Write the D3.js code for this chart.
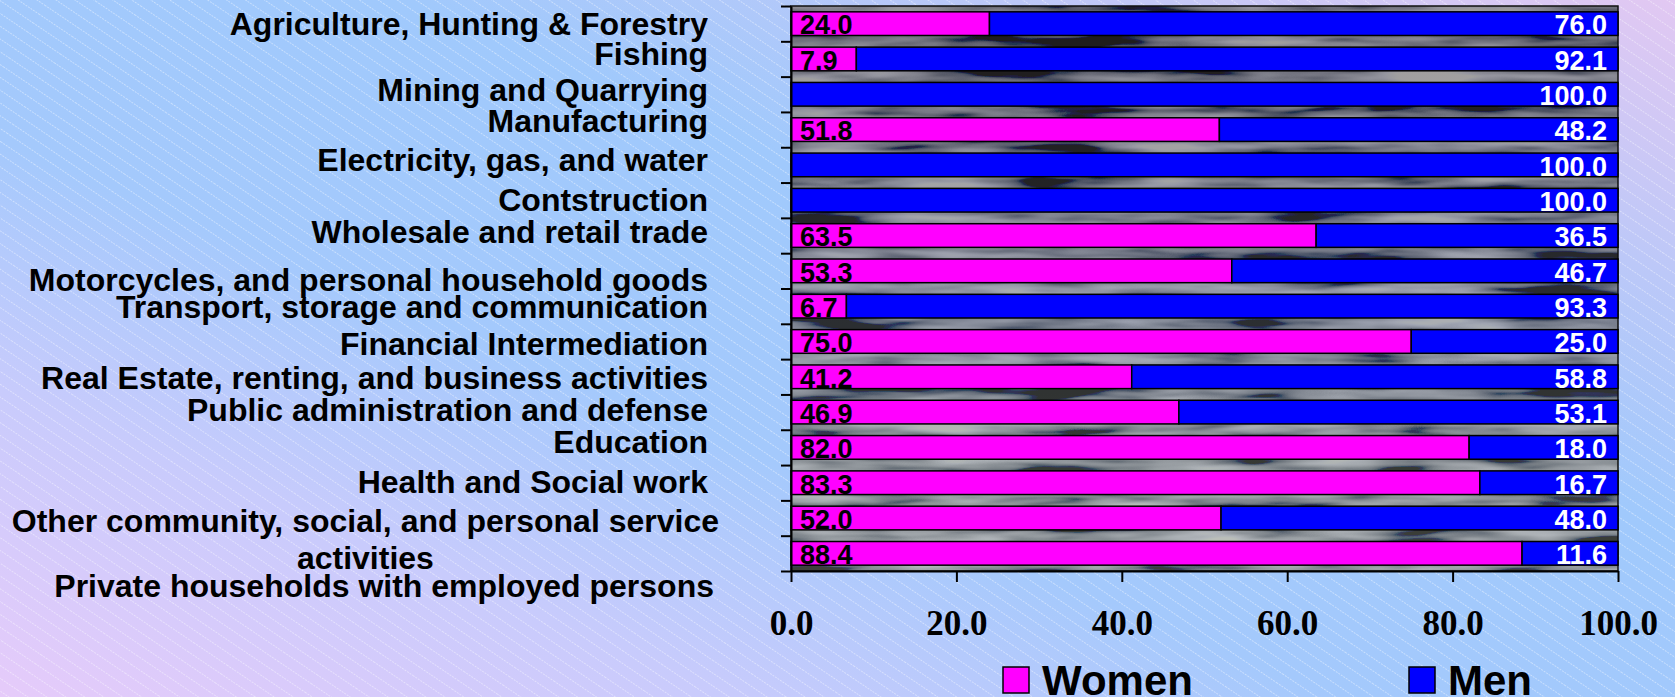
<!DOCTYPE html>
<html>
<head>
<meta charset="utf-8">
<script src="https://cdn.jsdelivr.net/npm/d3@7"></script>
<style>
  html, body { margin: 0; padding: 0; }
  svg { display: block; }
</style>
</head>
<body>
<svg width="1675" height="697"></svg>
<script>
// data
var categories = [
  "Agriculture, Hunting & Forestry",
  "Fishing",
  "Mining and Quarrying",
  "Manufacturing",
  "Electricity, gas, and water",
  "Contstruction ",
  "Wholesale and retail trade",
  "Motorcycles, and personal household goods ",
  "Transport, storage and communication",
  "Financial Intermediation",
  "Real Estate, renting, and business activities",
  "Public administration and defense",
  "Education",
  "Health and Social work ",
  "Other community, social, and personal service|activities",
  "Private households with employed persons"
];
var women = [24.0, 7.9, 0, 51.8, 0, 0, 63.5, 53.3, 6.7, 75.0, 41.2, 46.9, 82.0, 83.3, 52.0, 88.4];
var men   = [76.0, 92.1, 100.0, 48.2, 100.0, 100.0, 36.5, 46.7, 93.3, 25.0, 58.8, 53.1, 18.0, 16.7, 48.0, 11.6];
var xTicks = [0, 20, 40, 60, 80, 100];
var seriesNames = ["Women", "Men"];
var seriesColors = ["#ff00ff", "#0000ff"];

// label nudges (the category labels don't sit exactly on the bands)
var labelShift = [0, -5, -4.5, -9, -5, 0, -3.5, 9, 1, 2.5, 1, -2, -5.5, -1, 3, 32];
var labelRight = [708, 708, 708, 708, 708, 708, 708, 708, 708, 708, 708, 708, 708, 708, 719, 714];

var svg = d3.select("svg"),
    width = 1675,
    height = 697,
    pLeft = 791, pRight = 1618, pTop = 6, pBottom = 571;

var defs = svg.append("defs");

// page background
var bg = defs.append("linearGradient").attr("id", "bg")
    .attr("x1", 0).attr("y1", 1).attr("x2", 1).attr("y2", 0);
[[0, "#e6cbfa"], [0.22, "#c8cbfc"], [0.4, "#a4c9fc"], [0.62, "#a0c9fc"], [0.8, "#bcc8f8"], [1, "#e2c8f2"]]
  .forEach(function(s) { bg.append("stop").attr("offset", s[0]).attr("stop-color", s[1]); });

var hatch = defs.append("pattern").attr("id", "hatch")
    .attr("patternUnits", "userSpaceOnUse")
    .attr("width", 40).attr("height", 10.6)
    .attr("patternTransform", "rotate(34)");
hatch.append("line")
    .attr("x1", 0).attr("x2", 40).attr("y1", 0.5).attr("y2", 0.5)
    .attr("stroke", "#ffffff").attr("stroke-opacity", 0.4)
    .attr("stroke-width", 1).attr("stroke-dasharray", "2,1");

// plot area "photo"
var pg = defs.append("linearGradient").attr("id", "plotbg")
    .attr("x1", 0).attr("y1", 0).attr("x2", 0).attr("y2", 1);
[[0, "#3e3838"], [0.3, "#46464a"], [0.55, "#565c64"], [0.8, "#6c7268"], [1, "#7a8076"]]
  .forEach(function(s) { pg.append("stop").attr("offset", s[0]).attr("stop-color", s[1]); });

var filt = defs.append("filter").attr("id", "photo")
    .attr("x", 0).attr("y", 0).attr("width", "100%").attr("height", "100%");
filt.append("feTurbulence")
    .attr("type", "fractalNoise")
    .attr("baseFrequency", "0.008 0.06")
    .attr("numOctaves", 3)
    .attr("seed", 11);
filt.append("feColorMatrix").attr("type", "matrix")
    .attr("values", "2.2 0 0 0 -0.75  2.2 0 0 0 -0.72  2.4 0 0 0 -0.7  0 0 0 0 1");

svg.append("rect").attr("width", width).attr("height", height).attr("fill", "url(#bg)");
svg.append("rect").attr("width", width).attr("height", height).attr("fill", "url(#hatch)");

// scales
var x = d3.scaleLinear().domain([0, 100]).range([pLeft, pRight]);
var y = d3.scaleBand().domain(categories).range([pTop, pBottom])
    .paddingInner(0.33).paddingOuter(0.165);
var yTick = d3.scaleLinear().domain([0, categories.length]).range([pTop, pBottom]);

var plot = svg.append("g");
plot.append("rect")
    .attr("x", pLeft).attr("y", pTop)
    .attr("width", pRight - pLeft).attr("height", pBottom - pTop)
    .attr("fill", "url(#plotbg)");
plot.append("rect")
    .attr("x", pLeft).attr("y", pTop)
    .attr("width", pRight - pLeft).attr("height", pBottom - pTop)
    .attr("filter", "url(#photo)")
    .attr("opacity", 0.5);
plot.append("rect")
    .attr("x", pLeft).attr("y", pTop)
    .attr("width", pRight - pLeft).attr("height", pBottom - pTop)
    .attr("fill", "none").attr("stroke", "#111").attr("stroke-width", 1.5);

// stacked bars
var rows = categories.map(function(c, i) {
  return { cat: c, women: women[i], men: men[i] };
});

var row = svg.append("g").selectAll("g")
    .data(rows)
    .enter().append("g");

row.filter(function(d) { return d.women > 0; })
  .append("rect")
    .attr("x", x(0))
    .attr("y", function(d) { return y(d.cat); })
    .attr("width", function(d) { return x(d.women) - x(0); })
    .attr("height", y.bandwidth())
    .attr("fill", seriesColors[0])
    .attr("stroke", "#000").attr("stroke-width", 1.5);

row.append("rect")
    .attr("x", function(d) { return x(d.women); })
    .attr("y", function(d) { return y(d.cat); })
    .attr("width", function(d) { return x(d.women + d.men) - x(d.women); })
    .attr("height", y.bandwidth())
    .attr("fill", seriesColors[1])
    .attr("stroke", "#000").attr("stroke-width", 1.5);

// value labels
row.filter(function(d) { return d.women > 0; })
  .append("text")
    .attr("x", x(0) + 9)
    .attr("y", function(d) { return y(d.cat) + y.bandwidth() - 1; })
    .attr("font-family", "Liberation Sans, Arial, sans-serif")
    .attr("font-weight", "bold")
    .attr("font-size", 27)
    .attr("fill", "#000")
    .text(function(d) { return d.women.toFixed(1); });

row.append("text")
    .attr("x", x(100) - 11)
    .attr("y", function(d) { return y(d.cat) + y.bandwidth() - 1; })
    .attr("text-anchor", "end")
    .attr("font-family", "Liberation Sans, Arial, sans-serif")
    .attr("font-weight", "bold")
    .attr("font-size", 27)
    .attr("fill", "#fff")
    .text(function(d) { return d.men.toFixed(1); });

// axes
var xAxis = svg.append("g")
    .attr("transform", "translate(0," + pBottom + ")")
    .call(d3.axisBottom(x).tickValues(xTicks).tickFormat(d3.format(".1f"))
      .tickSize(11).tickSizeOuter(0).tickPadding(28));
xAxis.selectAll("path, line").attr("stroke", "#000").attr("stroke-width", 2);
xAxis.selectAll("text")
    .attr("font-family", "Liberation Serif, Times New Roman, serif")
    .attr("font-weight", "bold")
    .attr("font-size", 35)
    .attr("fill", "#000");

var yAxis = svg.append("g")
    .attr("transform", "translate(" + pLeft + ",0)")
    .call(d3.axisLeft(yTick).tickValues(d3.range(categories.length + 1))
      .tickFormat("").tickSize(10).tickSizeOuter(0));
yAxis.selectAll("path, line").attr("stroke", "#000").attr("stroke-width", 2);

// category labels
var labels = svg.append("g")
    .attr("font-family", "Liberation Sans, Arial, sans-serif")
    .attr("font-weight", "bold")
    .attr("font-size", 32)
    .attr("fill", "#000")
    .style("white-space", "pre");

categories.forEach(function(c, i) {
  var lines = c.split("|");
  var cy = y(c) + y.bandwidth() / 2 + labelShift[i];
  var t = labels.append("text")
      .attr("x", labelRight[i])
      .attr("y", cy)
      .attr("dy", "0.35em")
      .attr("text-anchor", "end")
      .text(lines[0]);
  if (lines.length > 1) {
    var w = t.node().getComputedTextLength();
    labels.append("text")
        .attr("x", labelRight[i] - w / 2)
        .attr("y", cy + 36.5)
        .attr("dy", "0.35em")
        .attr("text-anchor", "middle")
        .text(lines[1]);
  }
});

// legend
var legend = svg.append("g").selectAll("g")
    .data(seriesNames)
    .enter().append("g")
    .attr("transform", function(d, i) { return "translate(" + (i === 0 ? 1003 : 1409) + ",667)"; });
legend.append("rect")
    .attr("width", 26).attr("height", 26)
    .attr("fill", function(d, i) { return seriesColors[i]; })
    .attr("stroke", "#000").attr("stroke-width", 1.5);
legend.append("text")
    .attr("x", 39).attr("y", 28)
    .attr("font-family", "Liberation Sans, Arial, sans-serif")
    .attr("font-weight", "bold")
    .attr("font-size", 42)
    .attr("fill", "#000")
    .text(function(d) { return d; });
</script>
</body>
</html>
